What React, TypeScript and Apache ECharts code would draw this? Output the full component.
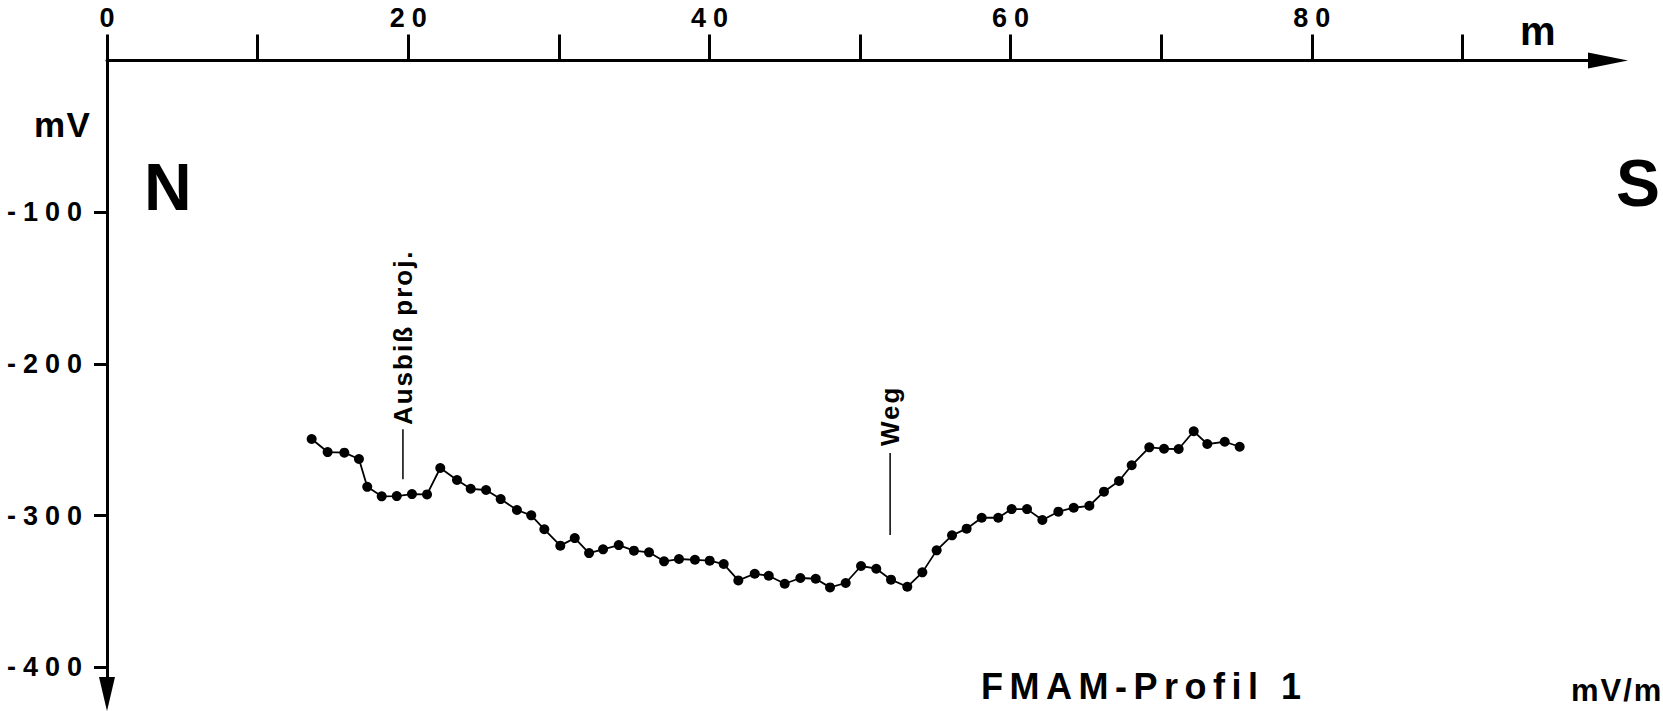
import React, { useEffect, useRef } from "react";
import * as echarts from "echarts";

// Profile distance (m) and FMAM potential (mV)
const distances = [
  13.59, 14.65, 15.76, 16.73, 17.28, 18.24, 19.24, 20.25, 21.25, 22.13,
  23.24, 24.15, 25.17, 26.14, 27.22, 28.17, 29.04, 30.1, 31.06, 32.01,
  32.94, 33.98, 34.99, 35.99, 36.99, 37.98, 39.04, 40.02, 40.95, 41.92,
  43.01, 43.94, 45.0, 46.04, 47.06, 48.01, 49.05, 50.07, 51.08, 52.06,
  53.14, 54.14, 55.09, 56.11, 57.08, 58.08, 59.18, 60.07, 61.09, 62.11,
  63.17, 64.19, 65.23, 66.2, 67.2, 68.04, 69.21, 70.19, 71.16, 72.16,
  73.06, 74.22, 75.21,
];
const potentials = [
  -249.5, -258.1, -258.5, -262.7, -281.0, -287.3, -287.1, -285.8, -286.0, -268.6,
  -276.5, -282.3, -283.1, -289.1, -296.3, -299.8, -309.0, -319.8, -314.8, -324.7,
  -322.2, -319.4, -323.1, -324.2, -330.1, -328.6, -329.1, -329.7, -331.9, -342.7,
  -338.3, -339.6, -344.9, -341.1, -341.6, -347.3, -344.4, -333.2, -335.0, -342.2,
  -346.9, -337.4, -322.9, -313.0, -308.6, -301.4, -301.4, -295.7, -295.7, -302.9,
  -297.4, -294.8, -293.5, -284.2, -277.2, -266.8, -255.0, -255.9, -256.1, -244.4,
  -252.8, -251.3, -254.6,
];

const xTickValues = [0, 10, 20, 30, 40, 50, 60, 70, 80, 90];
const xLabelValues = [0, 20, 40, 60, 80];
const yTickValues = [-100, -200, -300, -400];

const annotationNames = ["Ausbiß proj.", "Weg"];
const annotationX = [19.65, 52.0];
const annotationLineTop = [-243, -258.7];
const annotationLineBottom = [-276, -312.8];
const annotationTextStart = [-240.3, -254.1];

const FONT = "'Liberation Sans', Arial, Helvetica, sans-serif";

// letter spacing of the typewritten lettering (applied per font size)
const CSS = `
text[style*="27px"] { letter-spacing: 7px; }
text[style*="36px"] { letter-spacing: 6.5px; }
text[style*="26px"] { letter-spacing: 2px; }
text[style*="35px"] { letter-spacing: 1.5px; }
text[style*="31px"] { letter-spacing: 2px; }
`;

export default function App() {
  const ref = useRef<HTMLDivElement>(null);

  useEffect(() => {
    if (!ref.current) return;
    const chart = echarts.init(ref.current, null, { renderer: "svg" });
    const black = "#000";
    const labelStyle = {
      color: black,
      fontSize: 27,
      fontWeight: "bold",
      fontFamily: FONT,
    };

    const annotationSeries = annotationNames.map((name, i) => ({
      type: "line",
      name,
      silent: true,
      symbol: "none",
      data: [
        [annotationX[i], annotationLineTop[i]],
        [annotationX[i], annotationLineBottom[i]],
      ],
      lineStyle: { color: black, width: 1.5 },
      z: 1,
    }));

    chart.setOption({
      animation: false,
      backgroundColor: "#fff",
      grid: { left: 107, top: 60.5, width: 1506, height: 629.6, containLabel: false },
      xAxis: {
        type: "value",
        position: "top",
        min: 0,
        max: 100,
        axisLine: {
          show: true,
          onZero: false,
          lineStyle: { color: black, width: 3 },
          symbol: ["none", "triangle"],
          symbolSize: [16, 40],
          symbolOffset: [0, -5],
        },
        axisTick: {
          show: true,
          inside: false,
          length: 26,
          lineStyle: { color: black, width: 3 },
          customValues: xTickValues,
        },
        axisLabel: { ...labelStyle, margin: 29, padding: [0, 0, 0, 7], customValues: xLabelValues },
        splitLine: { show: false },
      },
      yAxis: {
        type: "value",
        min: -415,
        max: 0,
        axisLine: {
          show: true,
          onZero: false,
          lineStyle: { color: black, width: 3 },
          symbol: ["triangle", "none"],
          symbolSize: [16, 34],
          symbolOffset: [-4, 0],
        },
        axisTick: {
          show: true,
          inside: false,
          length: 13,
          lineStyle: { color: black, width: 3 },
          customValues: yTickValues,
        },
        axisLabel: { ...labelStyle, margin: 18, customValues: yTickValues },
        splitLine: { show: false },
      },
      series: [
        {
          type: "line",
          name: "FMAM-Profil 1",
          data: distances.map((d, i) => [d, potentials[i]]),
          symbol: "circle",
          symbolSize: 10,
          showSymbol: true,
          itemStyle: { color: black },
          lineStyle: { color: black, width: 1.8 },
          z: 3,
        },
        ...annotationSeries,
      ],
    });

    const txt = (text: string, x: number, y: number, size: number, extra: any = {}) => ({
      type: "text",
      x,
      y,
      silent: true,
      ...extra,
      style: {
        text,
        fill: black,
        fontSize: size,
        fontWeight: "bold",
        fontFamily: FONT,
        align: "left",
        verticalAlign: "middle",
        textAlign: "left",
        textVerticalAlign: "middle",
      },
    });

    const annTexts = annotationNames.map((name, i) => {
      const p = chart.convertToPixel({ gridIndex: 0 }, [annotationX[i], annotationTextStart[i]]) as number[];
      return txt(name, p[0], p[1], 26, { rotation: Math.PI / 2 });
    });

    chart.setOption({
      graphic: [
        txt("mV", 34, 124, 35),
        txt("N", 144, 187, 66),
        txt("S", 1616, 182.5, 66),
        txt("m", 1520, 31, 40),
        txt("FMAM-Profil 1", 981, 686, 36),
        txt("mV/m", 1571, 690, 31),
        ...annTexts,
      ],
    });

    return () => chart.dispose();
  }, []);

  return (
    <>
      <style>{CSS}</style>
      <div
        ref={ref}
        style={{ position: "fixed", left: 0, top: 0, width: 1663, height: 711, background: "#fff" }}
      />
    </>
  );
}
